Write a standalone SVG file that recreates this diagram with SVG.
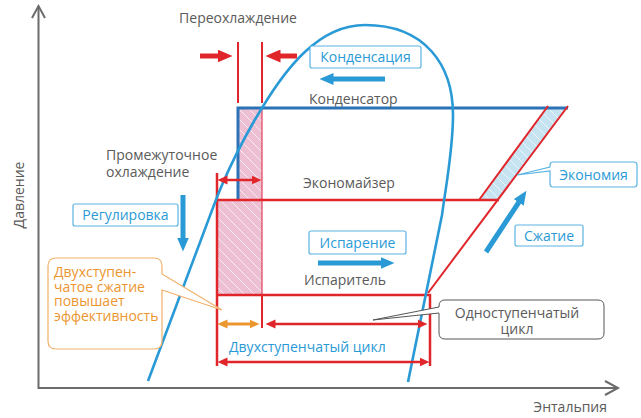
<svg xmlns="http://www.w3.org/2000/svg" width="641" height="418" viewBox="0 0 641 418">
<style>
text{font-family:"Open Sans","Noto Sans","DejaVu Sans",sans-serif;font-size:14px}
.g{fill:#5a5a5a}
.b{fill:#2a9ad6}
.o{fill:#ec9630}
.box{fill:#fff;stroke:#5ab4e2;stroke-width:1.2}
.axis{fill:none;stroke:#6b6b6b;stroke-width:2}
.red{stroke:#e0262b;stroke-width:2.5;fill:none}
.redT{stroke:#e0262b;stroke-width:2;fill:none}
.blu{stroke:#2b72b6;stroke-width:3;fill:none}
.dome{stroke:#2a9ad6;stroke-width:2.6;fill:none}
</style>
<defs>
<pattern id="hp" patternUnits="userSpaceOnUse" width="10" height="10">
<rect width="10" height="10" fill="#ecbfd2"/>
<path d="M-1,-1 L11,11 M-2,8 L2,12 M8,-2 L12,2" stroke="#fff" stroke-width="0.9" opacity="0.75"/>
</pattern>
<pattern id="hb" patternUnits="userSpaceOnUse" width="10" height="10">
<rect width="10" height="10" fill="#c6e3f1"/>
<path d="M-1,-1 L11,11 M-2,8 L2,12 M8,-2 L12,2" stroke="#fff" stroke-width="0.9" opacity="0.75"/>
</pattern>
<marker id="mR" markerUnits="userSpaceOnUse" markerWidth="10" markerHeight="10" refX="0.5" refY="5" orient="auto-start-reverse" viewBox="0 0 10 10"><path d="M0,0.5 L10,5 L0,9.5 Z" fill="#e0262b"/></marker>
<marker id="mRB" markerUnits="userSpaceOnUse" markerWidth="15" markerHeight="13" refX="0.5" refY="6.5" orient="auto" viewBox="0 0 15 13"><path d="M0,0 L15,6.5 L0,13 Z" fill="#e0262b"/></marker>
<marker id="mO" markerUnits="userSpaceOnUse" markerWidth="10" markerHeight="10" refX="0.5" refY="5" orient="auto-start-reverse" viewBox="0 0 10 10"><path d="M0,0.5 L10,5 L0,9.5 Z" fill="#ec9630"/></marker>
<marker id="mB" markerUnits="userSpaceOnUse" markerWidth="14" markerHeight="12" refX="0.5" refY="6" orient="auto" viewBox="0 0 14 12"><path d="M0,0 L14,6 L0,12 Z" fill="#2a9ad6"/></marker>
</defs>

<g id="axes">
<path class="axis" d="M38.5,6 V388 H618"/>
<polyline class="axis" points="32,18 38.5,6 45,18"/>
<polyline class="axis" points="605,381 618,388 605,395"/>
<text class="g" transform="rotate(-90 24 195)" x="24" y="195" text-anchor="middle">Давление</text>
<text class="g" x="607" y="412" text-anchor="end">Энтальпия</text>
</g>

<g id="regions">
<polygon points="238,108 262,108 262,294 217,294 217,200 238,200" fill="url(#hp)"/>
<line x1="262" y1="108" x2="262" y2="294" stroke="#e0405a" stroke-width="1.2"/>
<polygon points="479,200 498,200 567,108 547,108" fill="url(#hb)"/>
</g>

<g id="cycle">
<line class="redT" x1="238" y1="42" x2="238" y2="103"/>
<line class="redT" x1="262" y1="42" x2="262" y2="103"/>
<path class="blu" d="M238,200 V108 H568"/>
<path class="red" d="M217,173 V366"/>
<path class="red" d="M217,200 H499"/>
<path class="red" d="M217,295 H430 V366"/>
<line class="redT" x1="262" y1="295" x2="262" y2="328"/>
<line class="redT" x1="428" y1="293" x2="568" y2="106"/>
<line class="redT" x1="479" y1="200" x2="548" y2="106"/>
<path class="dome" d="M148,381 L214,205 C225,175 245,135 262,108 C285,70 318,25 365,25 C425,25 453,65 453,115 C453,150 446,185 442,215 L408,382"/>
</g>

<g id="connectors">
<line x1="200" y1="56" x2="218" y2="56" stroke="#e0262b" stroke-width="5" marker-end="url(#mRB)"/>
<line x1="297" y1="56" x2="280" y2="56" stroke="#e0262b" stroke-width="5" marker-end="url(#mRB)"/>
<line x1="227" y1="180" x2="252" y2="180" stroke="#e0262b" stroke-width="2.5" marker-start="url(#mR)" marker-end="url(#mR)"/>
<line x1="227" y1="324" x2="250" y2="324" stroke="#ec9630" stroke-width="3" marker-start="url(#mO)" marker-end="url(#mO)"/>
<line x1="275" y1="324" x2="418" y2="324" stroke="#e0262b" stroke-width="2.5" marker-start="url(#mR)" marker-end="url(#mR)"/>
<line x1="227" y1="362" x2="420" y2="362" stroke="#e0262b" stroke-width="2.5" marker-start="url(#mR)" marker-end="url(#mR)"/>
<line x1="385" y1="79" x2="333" y2="79" stroke="#2a9ad6" stroke-width="5" marker-end="url(#mB)"/>
<line x1="183" y1="195" x2="183" y2="238" stroke="#2a9ad6" stroke-width="5" marker-end="url(#mB)"/>
<line x1="318" y1="263" x2="381" y2="263" stroke="#2a9ad6" stroke-width="5" marker-end="url(#mB)"/>
<line x1="486" y1="252" x2="519" y2="202" stroke="#2a9ad6" stroke-width="5" marker-end="url(#mB)"/>
</g>

<g id="labels">
<text class="g" x="238" y="23" text-anchor="middle">Переохлаждение</text>
<text class="g" x="309" y="104">Конденсатор</text>
<text class="g"><tspan x="106" y="160">Промежуточное</tspan><tspan x="106" y="177">охлаждение</tspan></text>
<text class="g" x="303" y="188">Экономайзер</text>
<text class="g" x="304" y="285">Испаритель</text>
<text class="b" x="229" y="352">Двухступенчатый цикл</text>
</g>

<g id="node-kondensatsiya">
<rect class="box" x="310" y="46" width="111" height="22" rx="2"/>
<text class="b" x="365.5" y="62" text-anchor="middle">Конденсация</text>
</g>
<g id="node-regulirovka">
<rect class="box" x="73" y="204" width="105" height="22" rx="2"/>
<text class="b" x="125.5" y="220" text-anchor="middle">Регулировка</text>
</g>
<g id="node-isparenie">
<rect class="box" x="309" y="231" width="97" height="23" rx="2"/>
<text class="b" x="357.5" y="248" text-anchor="middle">Испарение</text>
</g>
<g id="node-szhatie">
<rect class="box" x="515" y="225" width="68" height="21" rx="2"/>
<text class="b" x="549" y="241" text-anchor="middle">Сжатие</text>
</g>
<g id="node-ekonomiya">
<path class="box" d="M553,162 H634 Q637,162 637,165 V184 Q637,187 634,187 H553 Q550,187 550,184 V171 L517,175 L550,167 V165 Q550,162 553,162 Z"/>
<text class="b" x="593.5" y="180" text-anchor="middle">Экономия</text>
</g>
<g id="node-callout-orange">
<path d="M56,258 H154 Q162,258 162,266 V274 L222,310 L162,290 V341 Q162,349 154,349 H56 Q48,349 48,341 V266 Q48,258 56,258 Z" fill="#fff" stroke="#f2b06a" stroke-width="1.2"/>
<text class="o"><tspan x="54" y="277">Двухступен-</tspan><tspan x="54" y="291.5">чатое сжатие</tspan><tspan x="54" y="306">повышает</tspan><tspan x="54" y="320.5">эффективность</tspan></text>
</g>
<g id="node-callout-gray">
<path d="M445,300 H598 Q604,300 604,306 V333 Q604,339 598,339 H445 Q439,339 439,333 V313 L373,320 L439,307 V306 Q439,300 445,300 Z" fill="#fff" stroke="#555" stroke-width="1"/>
<text class="g" text-anchor="middle"><tspan x="517" y="318">Одноступенчатый</tspan><tspan x="517" y="334">цикл</tspan></text>
</g>
</svg>
